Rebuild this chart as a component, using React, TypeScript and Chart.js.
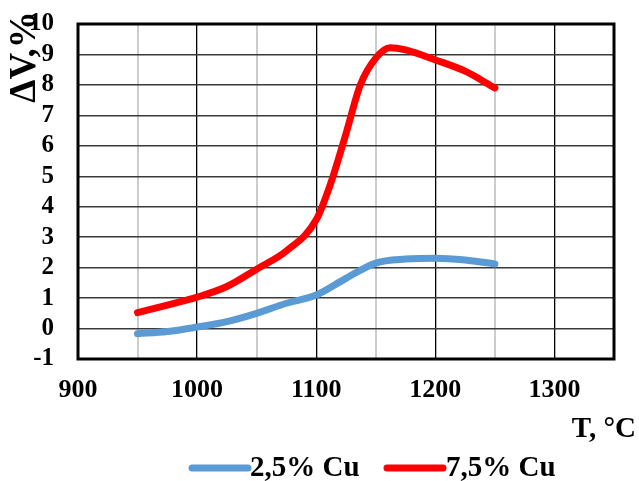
import React, { useEffect, useRef } from "react";
import { Chart, registerables } from "chart.js";

Chart.register(...registerables);

const temperatures = [950, 975, 1000, 1025, 1050, 1075, 1100, 1112, 1125, 1137, 1150, 1162, 1175, 1200, 1225, 1250];
const cu25Temps = [950, 975, 1000, 1025, 1050, 1075, 1100, 1125, 1150, 1175, 1200, 1225, 1250];
const cu25Values = [-0.17, -0.1, 0.05, 0.23, 0.5, 0.83, 1.1, 1.65, 2.15, 2.28, 2.31, 2.25, 2.12];
const cu75Values = [0.52, 0.77, 1.03, 1.38, 1.95, 2.55, 3.57, 4.75, 6.4, 8.0, 8.88, 9.22, 9.15, 8.82, 8.45, 7.9];
const seriesLabels = ["2,5% Cu", "7,5% Cu"];
const seriesColors = ["#5B9BD5", "#FF0000"];
const xTickLabels = [900, 1000, 1100, 1200, 1300];
const yTitle = "ΔV,%";
const xTitle = "T, °C";

const FONT = "'Liberation Serif', 'Times New Roman', serif";

export default function App() {
  const ref = useRef<HTMLCanvasElement | null>(null);

  useEffect(() => {
    const canvas = ref.current;
    if (!canvas) return;

    const overlay = {
      id: "overlay",
      afterDraw(chart: any) {
        const { ctx, chartArea } = chart;
        ctx.save();
        ctx.strokeStyle = "#000";
        ctx.lineWidth = 3;
        ctx.strokeRect(chartArea.left, chartArea.top, chartArea.right - chartArea.left, chartArea.bottom - chartArea.top);

        ctx.fillStyle = "#000";
        ctx.font = `bold 37px ${FONT}`;
        ctx.textAlign = "center";
        ctx.textBaseline = "middle";
        ctx.translate(25, 57);
        ctx.rotate(-Math.PI / 2);
        ctx.fillText(yTitle, 0, 0);
        ctx.restore();

        ctx.save();
        ctx.fillStyle = "#000";
        ctx.font = `bold 29px ${FONT}`;
        ctx.textAlign = "right";
        ctx.textBaseline = "alphabetic";
        ctx.fillText(xTitle, 636, 437);

        const items = [
          { x0: 192, x1: 248, tx: 250 },
          { x0: 387, x1: 443, tx: 446 },
        ];
        chart.data.datasets.forEach((ds: any, i: number) => {
          const it = items[i];
          ctx.strokeStyle = ds.borderColor;
          ctx.lineWidth = 7;
          ctx.lineCap = "round";
          ctx.beginPath();
          ctx.moveTo(it.x0, 468);
          ctx.lineTo(it.x1, 468);
          ctx.stroke();
          ctx.fillStyle = "#000";
          ctx.font = `bold 29px ${FONT}`;
          ctx.textAlign = "left";
          ctx.textBaseline = "middle";
          ctx.fillText(ds.label, it.tx, 469);
        });
        ctx.restore();
      },
    };

    const chart = new Chart(canvas, {
      type: "line",
      data: {
        datasets: [
          {
            label: seriesLabels[0],
            data: cu25Temps.map((t, i) => ({ x: t, y: cu25Values[i] })),
            borderColor: seriesColors[0],
            backgroundColor: seriesColors[0],
            borderWidth: 7,
            borderCapStyle: "round",
            borderJoinStyle: "round",
            pointRadius: 0,
            cubicInterpolationMode: "monotone",
          },
          {
            label: seriesLabels[1],
            data: temperatures.map((t, i) => ({ x: t, y: cu75Values[i] })),
            borderColor: seriesColors[1],
            backgroundColor: seriesColors[1],
            borderWidth: 7,
            borderCapStyle: "round",
            borderJoinStyle: "round",
            pointRadius: 0,
            cubicInterpolationMode: "monotone",
          },
        ],
      },
      options: {
        animation: false,
        responsive: false,
        maintainAspectRatio: false,
        layout: { padding: { left: 0, top: 24, right: 25, bottom: 62 } },
        plugins: { legend: { display: false }, tooltip: { enabled: false } },
        scales: {
          x: {
            type: "linear",
            min: 900,
            max: 1350,
            afterFit: (s: any) => {
              s.height = 60;
              s.paddingLeft = 0;
              s.paddingRight = 0;
            },
            afterBuildTicks: (s: any) => {
              const t = [];
              for (let v = 900; v <= 1350; v += 50) t.push({ value: v });
              s.ticks = t;
            },
            ticks: {
              autoSkip: false,
              maxRotation: 0,
              padding: 16,
              color: "#000",
              font: { family: FONT, size: 26, weight: "bold" },
              callback: (v: any) => (xTickLabels.includes(Number(v)) ? String(v) : ""),
            },
            grid: {
              drawTicks: false,
              color: (c: any) => (c.tick && c.tick.value % 100 === 0 ? "#000" : "#cccccc"),
              lineWidth: (c: any) => (c.tick && c.tick.value % 100 === 0 ? 1.3 : 2),
            },
            border: { display: false },
          },
          y: {
            type: "linear",
            min: -1,
            max: 10,
            afterFit: (s: any) => {
              s.width = 78;
              s.paddingTop = 0;
              s.paddingBottom = 0;
            },
            ticks: {
              stepSize: 1,
              autoSkip: false,
              padding: 24,
              color: "#000",
              font: { family: FONT, size: 25, weight: "bold" },
            },
            grid: {
              drawTicks: false,
              color: "#3a3a3a",
              lineWidth: 1.5,
            },
            border: { display: false },
          },
        },
      },
      plugins: [overlay],
    });

    return () => chart.destroy();
  }, []);

  return (
    <div style={{ position: "fixed", left: 0, top: 0, width: 639, height: 481, background: "#fff" }}>
      <canvas ref={ref} width={639} height={481} style={{ width: 639, height: 481, display: "block" }} />
    </div>
  );
}
